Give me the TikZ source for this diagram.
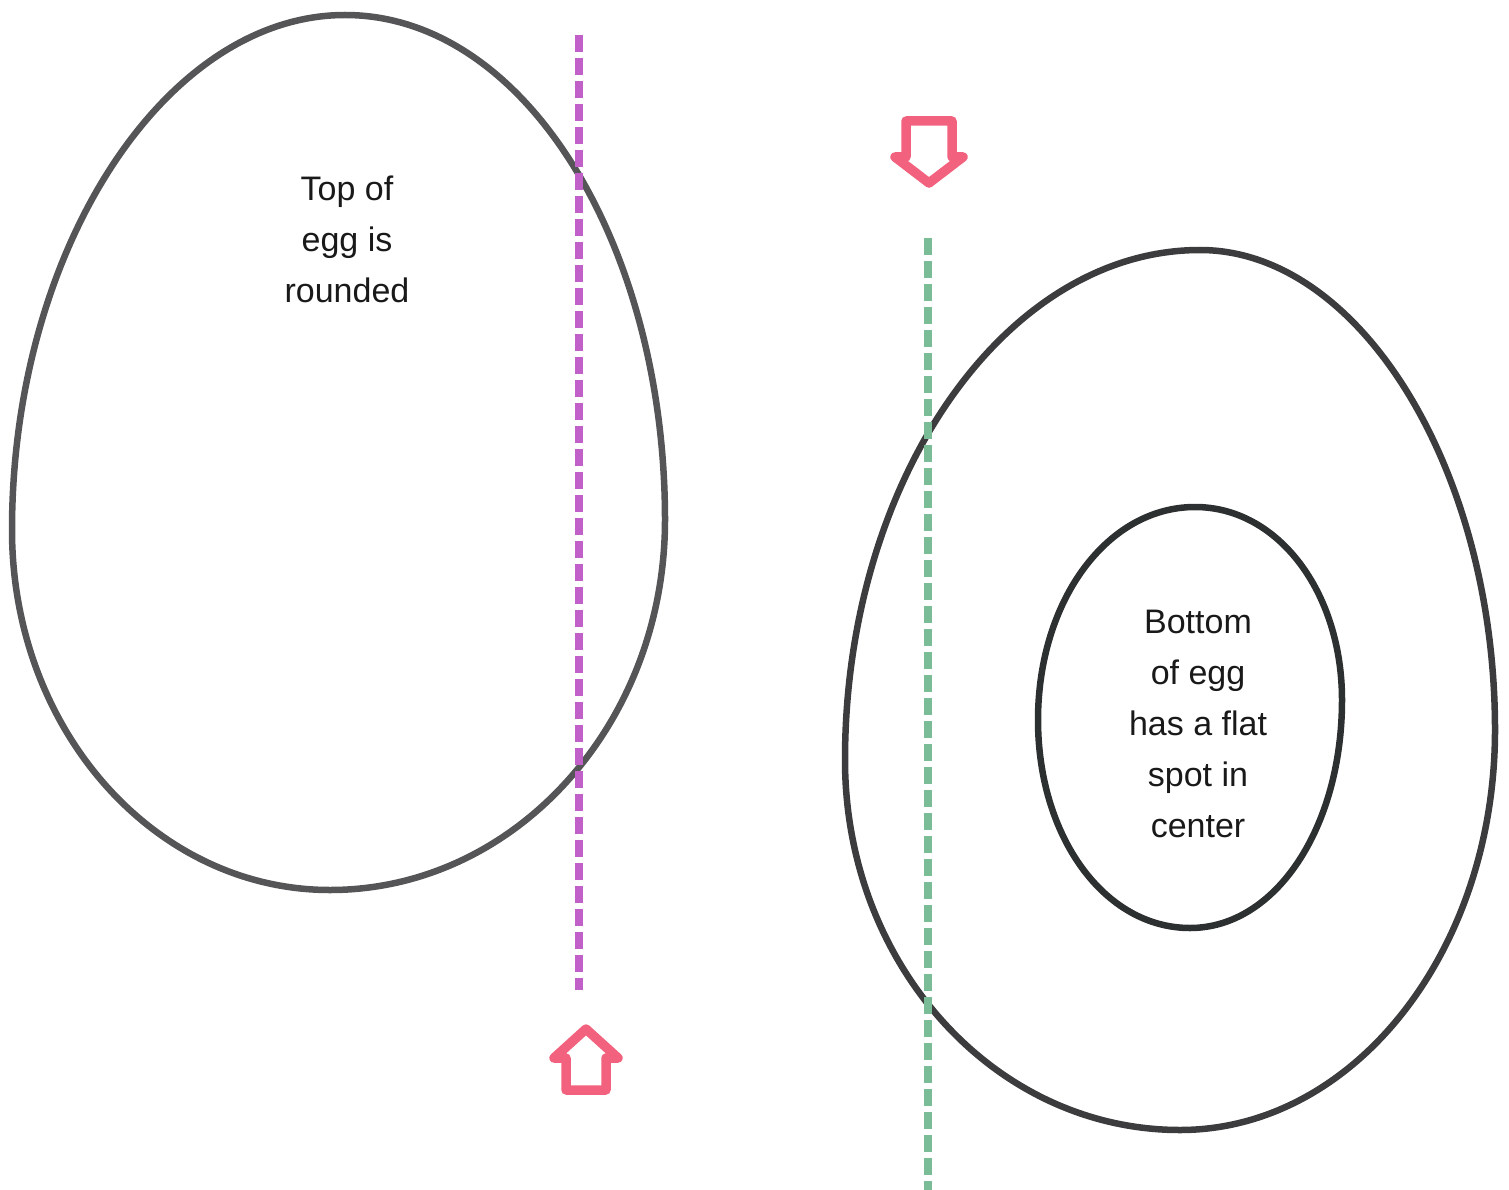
\documentclass[tikz,border=0pt]{standalone}
\usepackage{fontspec}
\setmainfont{Liberation Sans}
\begin{document}
\begin{tikzpicture}[x=1pt,y=-1pt,
  eggline/.style={line width=6.5pt},
  purpledash/.style={line width=7.5pt, draw={rgb,255:red,192;green,96;blue,200}, dash pattern=on 17pt off 6pt},
  greendash/.style={line width=7.5pt, draw={rgb,255:red,122;green,188;blue,150}, dash pattern=on 17pt off 6pt},
  pinkarrow/.style={line width=9.5pt, draw={rgb,255:red,242;green,98;blue,126}, line join=round},
  label/.style={align=center, text={rgb,255:red,25;green,25;blue,25}, font=\fontsize{34}{51}\selectfont}]
\useasboundingbox (0,0) rectangle (1509,1190);
% left egg
\draw[eggline, draw={rgb,255:red,85;green,85;blue,88}]
  (345,15) .. controls (525,15) and (665,245) .. (665,520)
  .. controls (665,724) and (515,890) .. (330,890)
  .. controls (154,890) and (12,729) .. (12,530)
  .. controls (12,250) and (165,15) .. (345,15) -- cycle;
% right outer egg
\draw[eggline, draw={rgb,255:red,60;green,60;blue,62}]
  (1200,250) .. controls (1360,250) and (1495,470) .. (1495,730)
  .. controls (1495,951) and (1354,1130) .. (1180,1130)
  .. controls (994,1130) and (845,964) .. (845,760)
  .. controls (845,480) and (1005,250) .. (1200,250) -- cycle;
% right inner egg
\draw[eggline, draw={rgb,255:red,45;green,48;blue,48}]
  (1195,507) .. controls (1278,507) and (1342,592) .. (1342,700)
  .. controls (1342,827) and (1276,928) .. (1190,928)
  .. controls (1104,928) and (1038,836) .. (1038,720)
  .. controls (1038,601) and (1107,507) .. (1195,507) -- cycle;
% dashed lines
\coordinate (p1) at (579,35);
\coordinate (p2) at (579,990);
\draw[purpledash] (p1) -- (p2);
\coordinate (g1) at (928,238);
\coordinate (g2) at (928,1190);
\draw[greendash] (g1) -- (g2);
% arrows
\draw[pinkarrow] (586,1029) -- (618,1058) -- (606,1058) -- (606,1090) -- (566,1090) -- (566,1058) -- (554,1058) -- cycle;
\draw[pinkarrow] (906,121) -- (952,121) -- (952,157) -- (963,157) -- (929,183) -- (895,157) -- (906,157) -- cycle;
% labels
\node[label] (toptext) at (347,239) {Top of\\egg is\\rounded};
\node[label] (bottomtext) at (1198,724) {Bottom\\of egg\\has a flat\\spot in\\center};
\end{tikzpicture}
\end{document}
